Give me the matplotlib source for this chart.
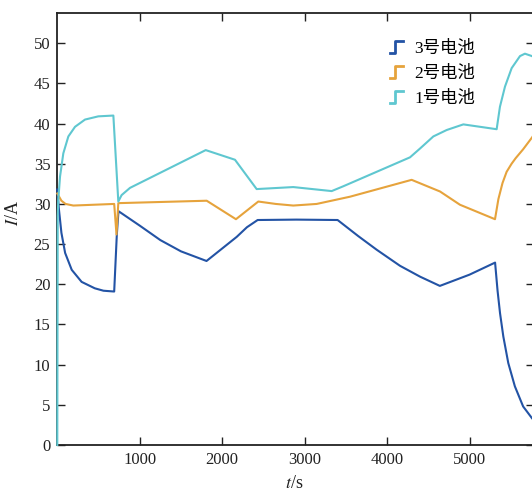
import matplotlib

matplotlib.use("Agg")
import matplotlib.pyplot as plt
from matplotlib.legend_handler import HandlerBase
from matplotlib.lines import Line2D

plt.rcParams["font.family"] = ["Liberation Serif", "Noto Sans CJK SC"]
plt.rcParams["mathtext.fontset"] = "stix"

labels = ["3号电池", "2号电池", "1号电池"]
colors = ["#2353a5", "#e6a33c", "#5fc7d0"]

t_b3 = [0, 20, 50, 95, 175, 295, 455, 560, 690, 722, 742, 1000, 1250, 1500, 1810,
        2176, 2300, 2430, 2900, 3400, 3650, 3874, 4157, 4400, 4640, 5000, 5310,
        5340, 5370, 5410, 5470, 5550, 5650, 5760, 5790]
i_b3 = [31.8, 29.3, 26.4, 23.9, 21.8, 20.3, 19.5, 19.2, 19.1, 26.2, 29.1, 27.3, 25.5, 24.1, 22.9,
        25.9, 27.1, 28.0, 28.05, 28.0, 26.0, 24.3, 22.3, 20.95, 19.8, 21.2, 22.7,
        19.2, 16.4, 13.5, 10.2, 7.3, 4.8, 3.3, 3.0]

t_b2 = [0, 50, 100, 194, 690, 718, 740, 1812, 2167, 2438, 2650, 2862, 3146, 3550, 4298,
        4642, 4884, 5309, 5350, 5400, 5450, 5510, 5560, 5650, 5760, 5790]
i_b2 = [31.3, 30.4, 30.0, 29.8, 30.0, 26.2, 30.1, 30.4, 28.1, 30.3, 30.0, 29.8, 30.0, 30.9, 33.0,
        31.55, 29.9, 28.1, 30.6, 32.6, 34.0, 35.0, 35.7, 36.8, 38.3, 38.8]

t_b1 = [0, 5, 12, 33, 73, 134, 215, 336, 497, 680, 740, 780, 882, 1800, 2155, 2418,
        2862, 3328, 3469, 4278, 4400, 4561, 4723, 4925, 5329, 5369, 5430, 5511, 5612,
        5672, 5757, 5790]
i_b1 = [0, 28.5, 30.5, 33.4, 36.3, 38.4, 39.6, 40.5, 40.9, 41.0, 30.3, 31.1, 32.0, 36.7, 35.5, 31.85,
        32.1, 31.6, 32.2, 35.8, 36.9, 38.4, 39.2, 39.9, 39.3, 42.1, 44.6, 46.9, 48.4,
        48.7, 48.4, 48.2]

x_ticks = [1000, 2000, 3000, 4000, 5000]
y_ticks = list(range(0, 55, 5))


class StepHandler(HandlerBase):
    # small rising-step glyph used as legend key
    def create_artists(self, legend, orig_handle, xdescent, ydescent, width, height, fontsize, trans):
        x0, y0 = -xdescent, -ydescent
        xs = [x0, x0 + 0.37 * width, x0 + 0.37 * width, x0 + width]
        ys = [y0, y0, y0 + height, y0 + height]
        line = Line2D(xs, ys, color=orig_handle.get_color(), lw=2.0, transform=trans)
        return [line]


fig = plt.figure(figsize=(5.32, 4.94), dpi=100)
ax = fig.add_axes([57.3 / 532, 49 / 494, (534 - 57.3) / 532, (445 - 12.7) / 494])

handles = []
for t, i, c in zip([t_b3, t_b2, t_b1], [i_b3, i_b2, i_b1], colors):
    (ln,) = ax.plot(t, i, color=c, lw=1.5, zorder=3, clip_on=False)
    handles.append(ln)

ax.set_xlim(0, 5782)
ax.set_ylim(0, 53.8)
ax.set_xticks(x_ticks)
ax.set_yticks(y_ticks)
ax.tick_params(direction="in", length=6, width=1, top=True, right=True,
               labelsize=12, colors="#222222", pad=5)
for sp in ax.spines.values():
    sp.set_linewidth(1.3)
    sp.set_color("#222222")

ax.set_xlabel("$t$/s", fontsize=13, color="#222222")
ax.set_ylabel("$I$/A", fontsize=13, color="#222222")
ax.xaxis.set_label_coords(0.497, -0.07)
ax.yaxis.set_label_coords(-0.074, 0.537)

ax.legend(handles, labels, handler_map={Line2D: StepHandler()}, loc="upper left",
          bbox_to_anchor=(390 / 532, 1 - 41 / 494), bbox_transform=fig.transFigure,
          frameon=False, fontsize=12.5, handlelength=0.72, handleheight=0.7,
          handletextpad=0.7, labelspacing=0.5, borderpad=0, borderaxespad=0)

fig.savefig("out.png", dpi=100)
